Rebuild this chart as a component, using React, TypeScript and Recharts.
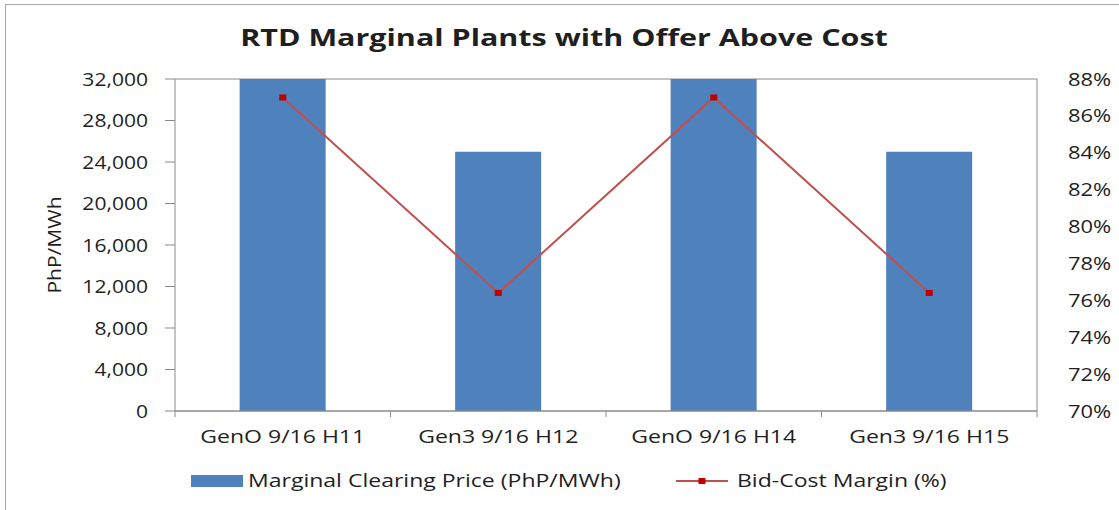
import React from 'react'
import { ComposedChart, Bar, Line, XAxis, YAxis, CartesianGrid } from 'recharts'

const categories = ['GenO 9/16 H11', 'Gen3 9/16 H12', 'GenO 9/16 H14', 'Gen3 9/16 H15']
const clearingPrice = [32000, 25000, 32000, 25000]
const bidCostMargin = [87, 76.4, 87, 76.4]
const leftTicks = [0, 4000, 8000, 12000, 16000, 20000, 24000, 28000, 32000]
const rightTicks = [70, 72, 74, 76, 78, 80, 82, 84, 86, 88]

const data = categories.map((name, i) => ({
  name,
  price: clearingPrice[i],
  margin: bidCostMargin[i],
}))

const W = 1119
const H = 510
const PLOT_LEFT = 175
const PLOT_RIGHT = 1037
const PLOT_TOP = 79
const PLOT_BOTTOM = 411
const BAND = (PLOT_RIGHT - PLOT_LEFT) / categories.length

const FONT = '"Open Sans", sans-serif'
const TEXT = '#1f1f1f'
const GRID = '#8a8a8a'
const BLUE = '#4f81bd'
const RED_LINE = '#c0504d'
const RED_MARK = '#c00000'
// the source glyphs are wider than Open Sans, so text is stretched sideways
const STRETCH_DIGITS = 1.17
const STRETCH_WORDS = 1.28

const fmt = (v: number) => v.toLocaleString('en-US')

function SText({ x, y, anchor = 'start', size = 18, weight = 400, sx = STRETCH_WORDS, rotate = 0, children }: any) {
  return (
    <text
      transform={`translate(${x},${y}) rotate(${rotate}) scale(${sx},1)`}
      textAnchor={anchor}
      fontSize={size}
      fontWeight={weight}
      fontFamily={FONT}
      fill={TEXT}
    >
      {children}
    </text>
  )
}

function XTick(props: any) {
  const { x, y, payload, index } = props
  return (
    <g>
      <line x1={x - BAND / 2} x2={x - BAND / 2} y1={y} y2={y + 6} stroke={GRID} />
      {index === categories.length - 1 && (
        <line x1={x + BAND / 2} x2={x + BAND / 2} y1={y} y2={y + 6} stroke={GRID} />
      )}
      <SText x={x} y={y + 32} anchor="middle">{payload.value}</SText>
    </g>
  )
}

function LeftTick(props: any) {
  const { x, y, payload } = props
  return <SText x={x} y={y + 6.5} anchor="end" sx={STRETCH_DIGITS}>{fmt(payload.value)}</SText>
}

function RightTick(props: any) {
  const { x, y, payload } = props
  return <SText x={x} y={y + 6.5} anchor="start" sx={1.22}>{`${payload.value}%`}</SText>
}

function SquareDot(props: any) {
  const { cx, cy } = props
  if (cx == null || cy == null) return null
  return <rect x={cx - 3.5} y={cy - 3} width={7} height={6} fill={RED_MARK} />
}

export default function App() {
  return (
    <div style={{ position: 'absolute', left: 0, top: 0, width: W, height: H, background: '#fff', overflow: 'hidden' }}>
      <div style={{ position: 'absolute', left: 5, top: 4, width: W, height: H, border: '1px solid #a6a6a6' }} />
      <div style={{ position: 'absolute', left: 0, top: 0 }}>
        <ComposedChart
          width={W}
          height={H}
          data={data}
          margin={{ top: PLOT_TOP, right: 0, left: 0, bottom: H - PLOT_BOTTOM - 60 }}
          barCategoryGap="30%"
        >
          <CartesianGrid vertical={false} stroke={GRID} strokeWidth={1} />
          <XAxis
            dataKey="name"
            height={60}
            axisLine={{ stroke: GRID }}
            tickLine={false}
            tickSize={0}
            tickMargin={0}
            tick={<XTick />}
            interval={0}
          />
          <YAxis
            yAxisId="left"
            width={PLOT_LEFT}
            domain={[0, 32000]}
            ticks={leftTicks}
            axisLine={{ stroke: GRID }}
            tickLine={{ stroke: GRID }}
            tickSize={10}
            tickMargin={17}
            tick={<LeftTick />}
          />
          <YAxis
            yAxisId="right"
            orientation="right"
            width={W - PLOT_RIGHT}
            domain={[70, 88]}
            ticks={rightTicks}
            axisLine={{ stroke: GRID }}
            tickLine={false}
            tickMargin={25}
            tick={<RightTick />}
          />
          <Bar yAxisId="left" dataKey="price" fill={BLUE} isAnimationActive={false} />
          <Line
            yAxisId="right"
            dataKey="margin"
            stroke={RED_LINE}
            strokeWidth={2}
            dot={<SquareDot />}
            activeDot={false}
            isAnimationActive={false}
          />
        </ComposedChart>
      </div>
      <svg style={{ position: 'absolute', left: 0, top: 0, pointerEvents: 'none' }} width={W} height={H}>
        <SText x={564} y={46} anchor="middle" size={24} weight={700} sx={1.27}>
          RTD Marginal Plants with Offer Above Cost
        </SText>
        <SText x={61} y={(PLOT_TOP + PLOT_BOTTOM) / 2} anchor="middle" rotate={-90} sx={1.17}>PhP/MWh</SText>
        <rect x={191} y={475} width={52} height={12} fill={BLUE} />
        <SText x={248} y={487}>Marginal Clearing Price (PhP/MWh)</SText>
        <line x1={676} x2={728} y1={481} y2={481} stroke={RED_LINE} strokeWidth={2} />
        <rect x={698.5} y={478} width={7} height={6} fill={RED_MARK} />
        <SText x={737} y={487}>Bid-Cost Margin (%)</SText>
      </svg>
    </div>
  )
}
